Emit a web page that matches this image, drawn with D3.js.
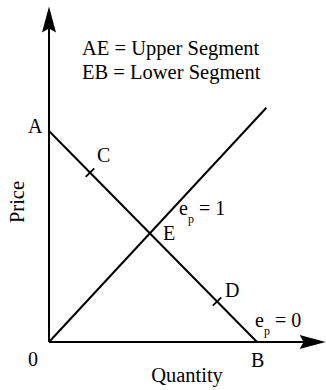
<!DOCTYPE html>
<html><head><meta charset="utf-8">
<script src="https://cdn.jsdelivr.net/npm/d3@7"></script>
<style>html,body{margin:0;padding:0;background:#fff;} svg{display:block;} text{font-family:"Liberation Serif","DejaVu Serif",serif;}</style>
</head><body>
<script>
// Data (economic units: quantity, price)
const demandLine = [[0, 10], [10, 0]];            // A -> B
const rayLine = [[0, 0], [10.45, 11.1]];          // origin ray through E
const pointE = [4.86, 5.15];
const tickPoints = [{name: "C", q: 1.97, p: 8.03}, {name: "D", q: 8.08, p: 1.92}];
const axisMax = {q: 13.3, p: 15.9};
const legendLines = ["AE = Upper Segment", "EB = Lower Segment"];

const W = 326, H = 390;
const x = d3.scaleLinear().domain([0, 10]).range([49, 257]);
const y = d3.scaleLinear().domain([0, 10]).range([342, 131]);

const svg = d3.select("body").append("svg").attr("width", W).attr("height", H);

// axes
svg.append("line").attr("x1", x(0)).attr("y1", y(0)).attr("x2", x(0)).attr("y2", y(axisMax.p) + 12)
  .attr("stroke", "#000").attr("stroke-width", 2);
svg.append("line").attr("x1", x(0)).attr("y1", y(0)).attr("x2", x(axisMax.q) - 12).attr("y2", y(0))
  .attr("stroke", "#000").attr("stroke-width", 2);
// arrowheads
const ty = y(axisMax.p), tx = x(0);
svg.append("path").attr("d", `M${tx},${ty} L${tx+7},${ty+26} L${tx},${ty+22} L${tx-7},${ty+26} Z`).attr("fill", "#000");
const ax = x(axisMax.q), ay = y(0);
svg.append("path").attr("d", `M${ax},${ay} L${ax-26},${ay-7} L${ax-22},${ay} L${ax-26},${ay+7} Z`).attr("fill", "#000");

const line = d3.line().x(d => x(d[0])).y(d => y(d[1]));
svg.append("path").attr("d", line(demandLine)).attr("stroke", "#000").attr("stroke-width", 2).attr("fill", "none");
svg.append("path").attr("d", line(rayLine)).attr("stroke", "#000").attr("stroke-width", 2).attr("fill", "none");

// perpendicular tick marks at C and D
const dx = x(demandLine[1][0]) - x(demandLine[0][0]);
const dy = y(demandLine[1][1]) - y(demandLine[0][1]);
const len = Math.hypot(dx, dy);
const nx = -dy / len, ny = dx / len;
tickPoints.forEach(t => {
  const cx = x(t.q), cy = y(t.p);
  svg.append("line").attr("x1", cx - nx*6).attr("y1", cy - ny*6).attr("x2", cx + nx*6).attr("y2", cy + ny*6)
    .attr("stroke", "#000").attr("stroke-width", 1.8);
});

function txt(s, px, py, size, anchor) {
  return svg.append("text").attr("x", px).attr("y", py)
    .attr("font-size", size).attr("text-anchor", anchor || "start").attr("fill", "#000").text(s);
}
// legend
legendLines.forEach((s, i) => txt(s, 82, 55 + i*24, 20.5));

// point labels
txt("A", 28, 133, 20);
txt("C", x(tickPoints[0].q) + 7, y(tickPoints[0].p) - 11, 20);
txt("D", x(tickPoints[1].q) + 8, y(tickPoints[1].p) - 4, 20);
txt("E", x(pointE[0]) + 13, y(pointE[1]) + 7, 20);
txt("0", 28, 366, 20);
txt("B", x(demandLine[1][0]) - 6, 367, 20);

// elasticity labels
function ep(val, px, py) {
  const t = svg.append("text").attr("x", px).attr("y", py).attr("font-size", 20).attr("fill", "#000");
  t.append("tspan").text("e");
  t.append("tspan").attr("dy", 8).attr("font-size", 12).text("p");
  t.append("tspan").attr("dy", -8).text(" = " + val);
}
ep("1", 179, 215);
ep("0", 255, 327);

// axis titles
txt("Quantity", 187, 382, 20.5, "middle");
svg.append("text").attr("transform", "translate(24,202) rotate(-90)").attr("text-anchor", "middle")
  .attr("font-size", 20.5).attr("fill", "#000").text("Price");
</script>
</body></html>
